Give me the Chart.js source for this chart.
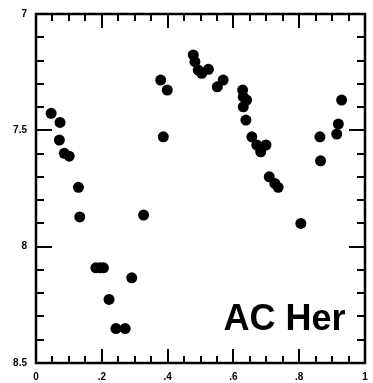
<!DOCTYPE html>
<html lang="en">
<head>
  <meta charset="UTF-8" />
  <title>AC Her</title>
  <script src="https://cdn.jsdelivr.net/npm/chart.js"></script>
  <style>
    * { margin: 0; padding: 0; box-sizing: border-box; }
    body { background: #fff; width: 373px; height: 383px; overflow: hidden; }
    #wrap { width: 373px; height: 383px; }
  </style>
</head>
<body>
  <div id="wrap"><canvas id="lc"></canvas></div>

  <script>
    // phase vs. magnitude
    const phase = [
      0.046, 0.073, 0.071, 0.086, 0.101, 0.129, 0.133, 0.182, 0.195, 0.205,
      0.222, 0.243, 0.271, 0.291, 0.327, 0.379, 0.399, 0.387, 0.478, 0.483,
      0.493, 0.504, 0.524, 0.551, 0.569, 0.628, 0.630, 0.640, 0.630, 0.638,
      0.656, 0.671, 0.683, 0.699, 0.709, 0.726, 0.736, 0.805, 0.863, 0.865,
      0.914, 0.919, 0.929
    ];
    const mag = [
      7.427, 7.466, 7.542, 7.599, 7.611, 7.745, 7.872, 8.091, 8.091, 8.091,
      8.227, 8.352, 8.352, 8.134, 7.864, 7.284, 7.327, 7.528, 7.176, 7.205,
      7.241, 7.255, 7.238, 7.313, 7.284, 7.327, 7.356, 7.370, 7.399, 7.456,
      7.528, 7.563, 7.592, 7.563, 7.700, 7.728, 7.745, 7.900, 7.528, 7.631,
      7.516, 7.473, 7.370
    ];

    const xTickValues = [0, 0.2, 0.4, 0.6, 0.8, 1];
    const xTickLabels = ['0', '.2', '.4', '.6', '.8', '1'];
    const xMinorTicks = [0.05, 0.1, 0.15, 0.25, 0.3, 0.35, 0.45, 0.5, 0.55,
                         0.65, 0.7, 0.75, 0.85, 0.9, 0.95];
    const yTickValues = [7, 7.5, 8, 8.5];
    const yTickLabels = ['7', '7.5', '8', '8.5'];
    const yMinorTicks = [7.1, 7.2, 7.3, 7.4, 7.6, 7.7, 7.8, 7.9, 8.1, 8.2, 8.3, 8.4];
    const starName = 'AC Her';

    // frame + inward ticks on all four sides
    const frameTicks = {
      id: 'frameTicks',
      afterDraw(chart) {
        const ctx = chart.ctx;
        const a = chart.chartArea;
        const x = chart.scales.x;
        const y = chart.scales.y;
        ctx.save();
        ctx.fillStyle = '#000';
        xTickValues.forEach(v => {
          const px = Math.round(x.getPixelForValue(v));
          ctx.fillRect(px - 1, a.bottom - 14, 2, 14);
          ctx.fillRect(px - 1, a.top, 2, 14);
        });
        xMinorTicks.forEach(v => {
          const px = Math.round(x.getPixelForValue(v));
          ctx.fillRect(px - 1, a.bottom - 7, 2, 7);
          ctx.fillRect(px - 1, a.top, 2, 7);
        });
        yTickValues.forEach(v => {
          const py = Math.round(y.getPixelForValue(v));
          ctx.fillRect(a.left, py - 1, 16, 2);
          ctx.fillRect(a.right - 16, py - 1, 16, 2);
        });
        yMinorTicks.forEach(v => {
          const py = Math.round(y.getPixelForValue(v));
          ctx.fillRect(a.left, py - 1, 8, 2);
          ctx.fillRect(a.right - 8, py - 1, 8, 2);
        });
        ctx.strokeStyle = '#000';
        ctx.lineWidth = 2.5;
        ctx.strokeRect(a.left, a.top, a.right - a.left, a.bottom - a.top);

        // star label
        ctx.font = 'bold 36px "Liberation Sans", Arial, sans-serif';
        ctx.textAlign = 'right';
        ctx.textBaseline = 'alphabetic';
        ctx.fillText(starName, x.getPixelForValue(0.941), y.getPixelForValue(8.359));
        ctx.restore();
      }
    };

    new Chart(document.getElementById('lc'), {
      type: 'scatter',
      data: {
        datasets: [{
          label: starName,
          data: phase.map((p, i) => ({ x: p, y: mag[i] })),
          backgroundColor: '#000',
          borderWidth: 0,
          pointRadius: 5.5,
          pointHoverRadius: 5.5
        }]
      },
      options: {
        responsive: true,
        maintainAspectRatio: false,
        animation: false,
        layout: { padding: { top: 14, right: 8, left: 0, bottom: 0 } },
        plugins: {
          legend: { display: false },
          tooltip: { enabled: false }
        },
        scales: {
          x: {
            type: 'linear',
            min: 0,
            max: 1,
            afterBuildTicks: s => { s.ticks = xTickValues.map(v => ({ value: v })); },
            afterFit: s => { s.height = 20; },
            grid: { display: false },
            border: { display: false },
            ticks: {
              padding: 0,
              color: '#000',
              font: { family: '"Liberation Sans", Arial, sans-serif', size: 10, weight: 'bold' },
              callback: (v, i) => xTickLabels[i]
            }
          },
          y: {
            type: 'linear',
            reverse: true,
            min: 7,
            max: 8.5,
            afterBuildTicks: s => { s.ticks = yTickValues.map(v => ({ value: v })); },
            afterFit: s => { s.width = 36; },
            grid: { display: false },
            border: { display: false },
            ticks: {
              padding: 1,
              color: '#000',
              font: { family: '"Liberation Sans", Arial, sans-serif', size: 10, weight: 'bold' },
              callback: (v, i) => yTickLabels[i]
            }
          }
        }
      },
      plugins: [frameTicks]
    });
  </script>
</body>
</html>
